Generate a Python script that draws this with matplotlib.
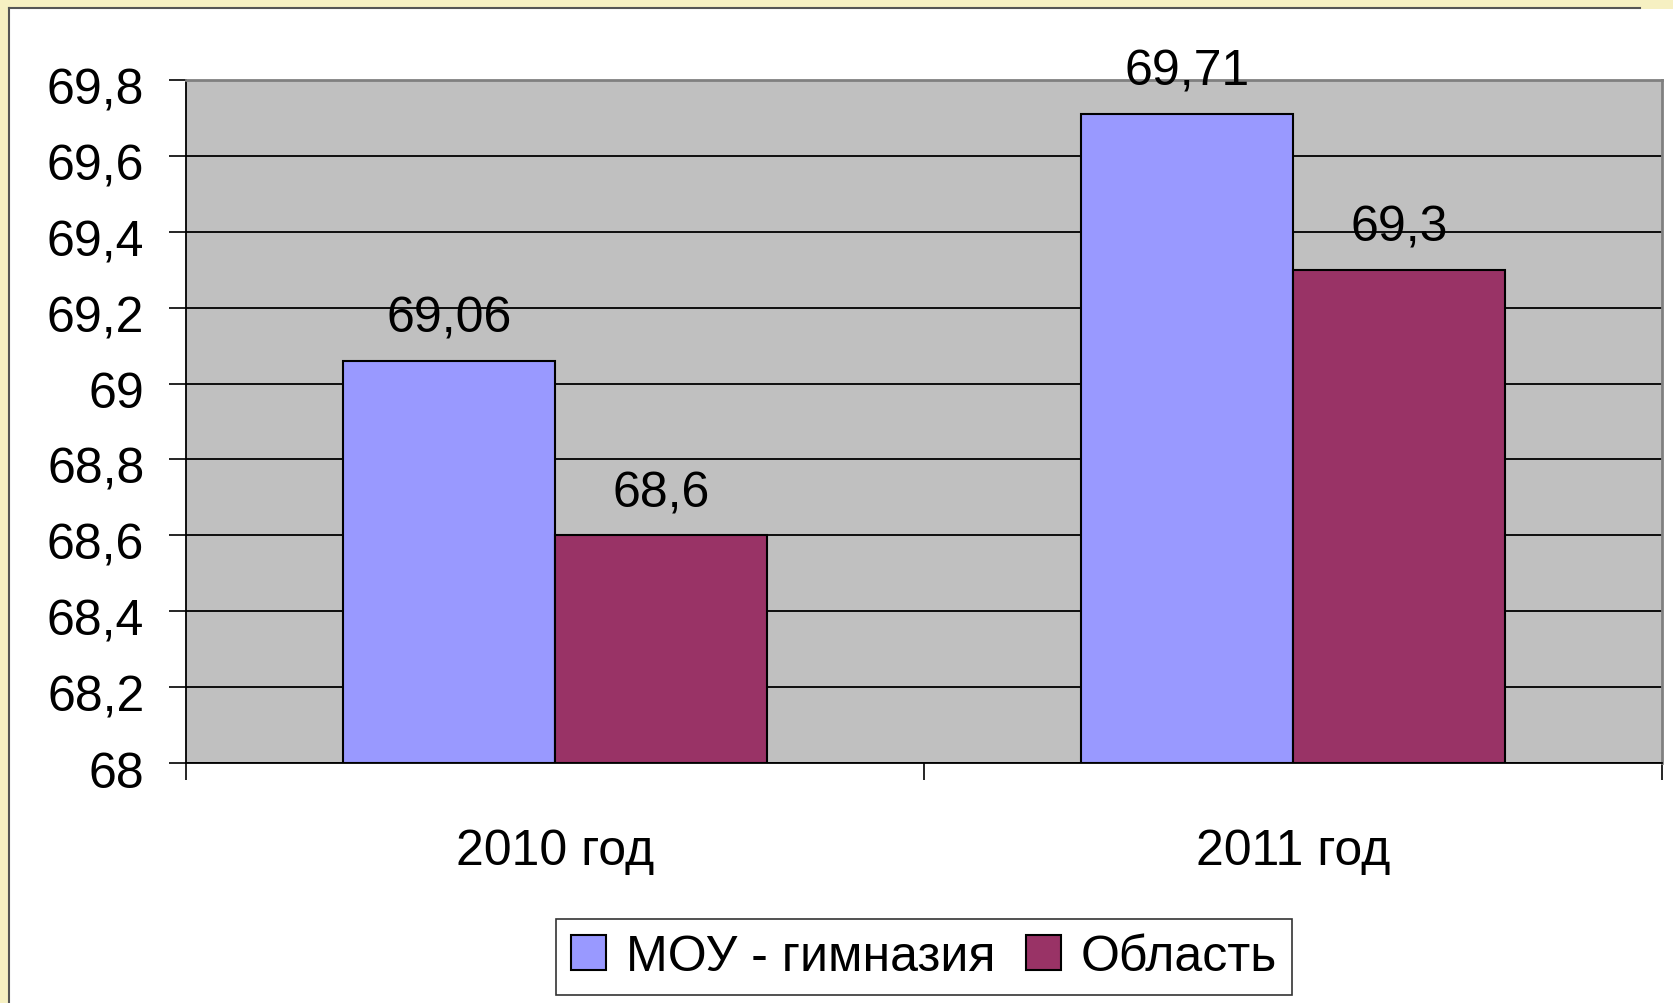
import numpy as np
import matplotlib
matplotlib.use('Agg')
import matplotlib.pyplot as plt
import matplotlib.transforms as mtransforms
from matplotlib.patches import Rectangle, Patch

plt.rcParams['font.family'] = ['Liberation Sans', 'DejaVu Sans']

# data
categories = ['2010 год', '2011 год']
series_names = ['МОУ - гимназия', 'Область']
school = [69.06, 69.71]
region = [68.6, 69.3]
value_labels = [['69,06', '69,71'], ['68,6', '69,3']]
yticks = [68.0, 68.2, 68.4, 68.6, 68.8, 69.0, 69.2, 69.4, 69.6, 69.8]
ytick_labels = ['68', '68,2', '68,4', '68,6', '68,8', '69', '69,2', '69,4', '69,6', '69,8']

colors = ['#9999FF', '#993366']
W, H = 1673, 1004
fs = 36
fig = plt.figure(figsize=(W / 100, H / 100), dpi=100)
fig.patch.set_facecolor('#F6F0C2')

# white slide panel
panel = Rectangle((9 / W, 0), 1 - 9 / W, 1 - 10 / H, transform=fig.transFigure,
                  facecolor='white', edgecolor='none', zorder=-5)
fig.patches.append(panel)
fig.add_artist(plt.Line2D([9 / W, 9 / W], [0, 1 - 9 / H], transform=fig.transFigure,
                          color='#555555', lw=1.5, zorder=-4))
fig.add_artist(plt.Line2D([9 / W, 1640 / W], [1 - 9 / H, 1 - 9 / H], transform=fig.transFigure,
                          color='#555555', lw=1.5, zorder=-4))

ax = fig.add_axes([186 / W, 1 - 764 / H, (1662 - 186) / W, (764 - 81) / H])
ax.set_facecolor('#C0C0C0')

x = np.arange(len(categories))
bw = 0.287
for i, vals in enumerate([school, region]):
    pos = x + (i - 0.5) * bw
    ax.bar(pos, np.array(vals) - 68, bottom=68, width=bw, color=colors[i],
           edgecolor='black', linewidth=1.5, zorder=3, label=series_names[i])
    for p, v, lab in zip(pos, vals, value_labels[i]):
        ax.annotate(lab, (p, v), xytext=(0, 21), textcoords='offset points',
                    ha='center', va='baseline', fontsize=fs, zorder=4)

ax.set_ylim(68, 69.8)
ax.set_xlim(-0.5, 1.5)
ax.set_yticks(yticks)
ax.set_yticklabels(ytick_labels, fontsize=fs)
ax.yaxis.grid(True, color='black', linewidth=1.3, zorder=1)
ax.set_axisbelow(True)
ax.tick_params(axis='y', length=12, width=1.2, direction='out', pad=18)
# excel puts the tick labels a little below the gridline
shift = mtransforms.ScaledTranslation(0, -4 / 72, fig.dpi_scale_trans)
for lab in ax.get_yticklabels():
    lab.set_transform(lab.get_transform() + shift)

ax.set_xticks(x)
ax.set_xticklabels(categories, fontsize=fs)
ax.set_xticks([-0.5, 0.5, 1.5], minor=True)
ax.tick_params(axis='x', which='major', length=0, pad=47)
ax.tick_params(axis='x', which='minor', length=12, width=1.2, direction='out')

for s in ['left', 'bottom']:
    ax.spines[s].set_color('black')
    ax.spines[s].set_linewidth(1.3)
for s in ['top', 'right']:
    ax.spines[s].set_color('#808080')
    ax.spines[s].set_linewidth(2)

handles = [Patch(facecolor=c, edgecolor='black', linewidth=1.5) for c in colors]
leg = fig.legend(handles, series_names, loc='center', bbox_to_anchor=(924 / W, 1 - 958 / H),
                 ncol=2, fontsize=fs, frameon=True, fancybox=False, handlelength=0.7,
                 handleheight=0.7, handletextpad=0.4, columnspacing=0.6, borderpad=0.3)
leg.get_frame().set_edgecolor('black')
leg.get_frame().set_linewidth(1.2)

fig.savefig('out.png', dpi=100, facecolor=fig.get_facecolor())
